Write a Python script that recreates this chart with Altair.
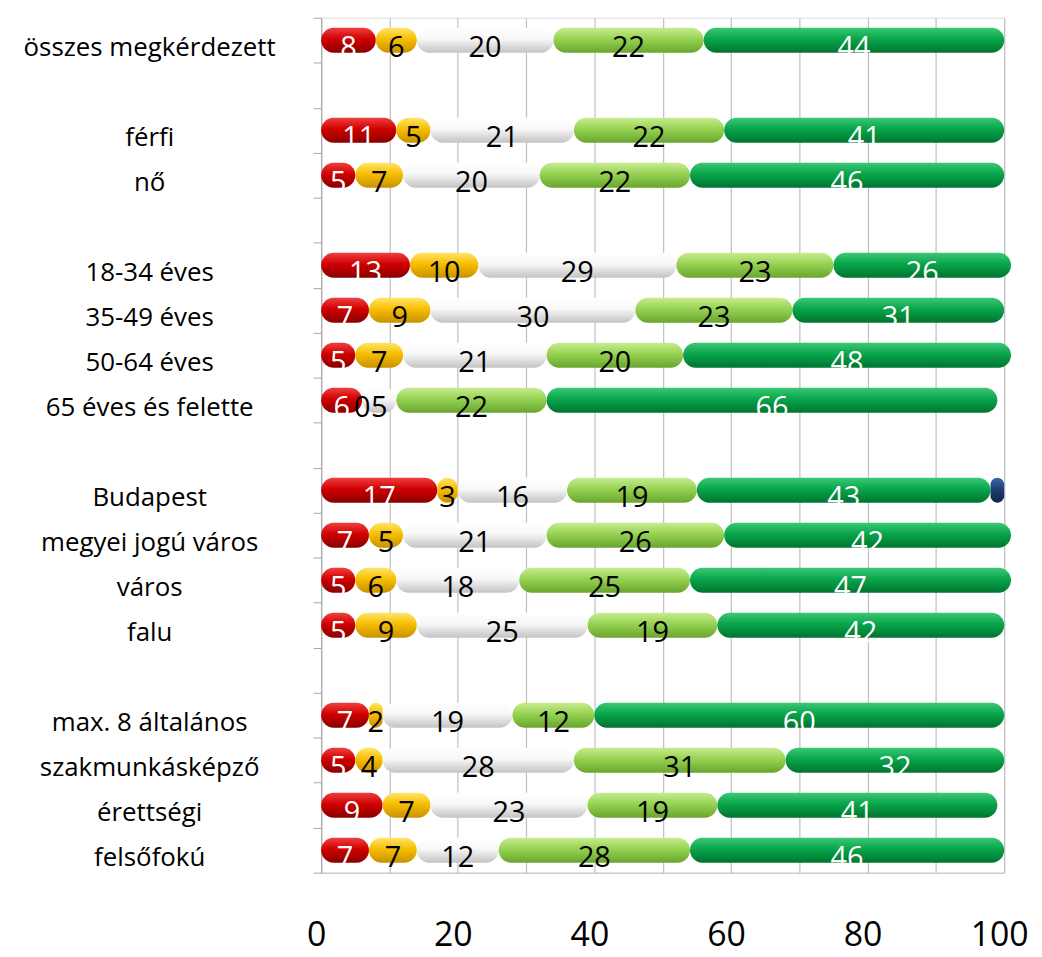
import altair as alt
import pandas as pd

rows = ["összes megkérdezett", " ", "férfi", "nő", "  ",
        "18-34 éves", "35-49 éves", "50-64 éves", "65 éves és felette", "   ",
        "Budapest", "megyei jogú város", "város", "falu", "    ",
        "max. 8 általános", "szakmunkásképző", "érettségi", "felsőfokú"]

categories = ["összes megkérdezett", "férfi", "nő",
              "18-34 éves", "35-49 éves", "50-64 éves", "65 éves és felette",
              "Budapest", "megyei jogú város", "város", "falu",
              "max. 8 általános", "szakmunkásképző", "érettségi", "felsőfokú"]

series = ["s1", "s2", "s3", "s4", "s5", "s6"]
s1 = [8, 11, 5, 13, 7, 5, 6, 17, 7, 5, 5, 7, 5, 9, 7]
s2 = [6, 5, 7, 10, 9, 7, 0, 3, 5, 6, 9, 2, 4, 7, 7]
s3 = [20, 21, 20, 29, 30, 21, 5, 16, 21, 18, 25, 19, 28, 23, 12]
s4 = [22, 22, 22, 23, 23, 20, 22, 19, 26, 25, 19, 12, 31, 19, 28]
s5 = [44, 41, 46, 26, 31, 48, 66, 43, 42, 47, 42, 60, 32, 41, 46]
s6 = [0, 0, 0, 0, 0, 0, 0, 2, 0, 0, 0, 0, 0, 0, 0]
values = [s1, s2, s3, s4, s5, s6]

recs = []
for i, c in enumerate(categories):
    for k, name in enumerate(series):
        recs.append({"cat": c, "series": name, "order": k, "value": values[k][i]})
df = pd.DataFrame(recs)

def grad(top, mid, bot):
    return alt.LinearGradient(
        gradient="linear", x1=0, x2=0, y1=0, y2=1,
        stops=[alt.GradientStop(color=top, offset=0),
               alt.GradientStop(color=mid, offset=0.45),
               alt.GradientStop(color=bot, offset=1)])

fills = {
    "s1": grad("#F04040", "#D00000", "#8A0000"),
    "s2": grad("#FFE46A", "#F7BE00", "#C99200"),
    "s3": grad("#FFFFFF", "#F7F7F7", "#C4C4C4"),
    "s4": grad("#C8EC90", "#96D252", "#6AA62E"),
    "s5": grad("#3CC874", "#08A54B", "#00752F"),
    "s6": grad("#3A66A8", "#1F3F75", "#0E2448"),
}

y_enc = alt.Y("cat:N", sort=rows,
              scale=alt.Scale(domain=rows, paddingInner=0, paddingOuter=0),
              axis=alt.Axis(title=None, tickBand="extent", ticks=True, tickSize=8,
                            tickColor="#A6A6A6", domainColor="#A6A6A6",
                            labelAlign="center", labelPadding=165, labelLimit=400,
                            labelOffset=7,
                            labelFont="Open Sans", labelFontSize=26,
                            labelColor="#000000", grid=False))
x_scale = alt.Scale(domain=[0, 100], nice=False)
x_axis = alt.Axis(title=None, values=list(range(0, 101, 10)),
                  labelExpr="datum.value % 20 == 0 ? datum.label : ''",
                  grid=True, gridColor="#BFBFBF", gridWidth=1.2,
                  ticks=False, domainColor="#BFBFBF", labelFlush=False,
                  labelFont="Open Sans", labelFontSize=34, labelColor="#000000",
                  labelPadding=46, labelOffset=-5)

base = alt.Chart(df).transform_stack(
    stack="value", groupby=["cat"], as_=["start", "end"],
    sort=[alt.SortField("order", order="ascending")])

layers = []
for name in series:
    layers.append(
        base.transform_filter(alt.datum.series == name)
        .mark_bar(size=25, cornerRadius=12.5, color=fills[name])
        .encode(x=alt.X("start:Q", scale=x_scale, axis=x_axis),
                x2="end:Q", y=y_enc)
    )

text = base.transform_filter(alt.datum.series != "s6").transform_calculate(
    mid="(datum.start + datum.end) / 2").mark_text(
    font="Open Sans", fontSize=29, baseline="middle", align="center", dy=8
).encode(
    x=alt.X("mid:Q", scale=x_scale),
    y=alt.Y("cat:N", sort=rows, scale=alt.Scale(domain=rows)),
    text=alt.Text("value:Q"),
    color=alt.condition("datum.series == 's1' || datum.series == 's5'",
                        alt.value("#FFFFFF"), alt.value("#000000")),
)

chart = alt.layer(*layers, text).properties(
    width=687, height=860,
    autosize=alt.AutoSizeParams(type="none"),
    padding={"left": 315, "top": 7, "right": 30, "bottom": 80},
).configure_view(stroke=None).configure(background="#FFFFFF")

chart.save("out.html", embed_options={"renderer": "svg", "actions": False})
